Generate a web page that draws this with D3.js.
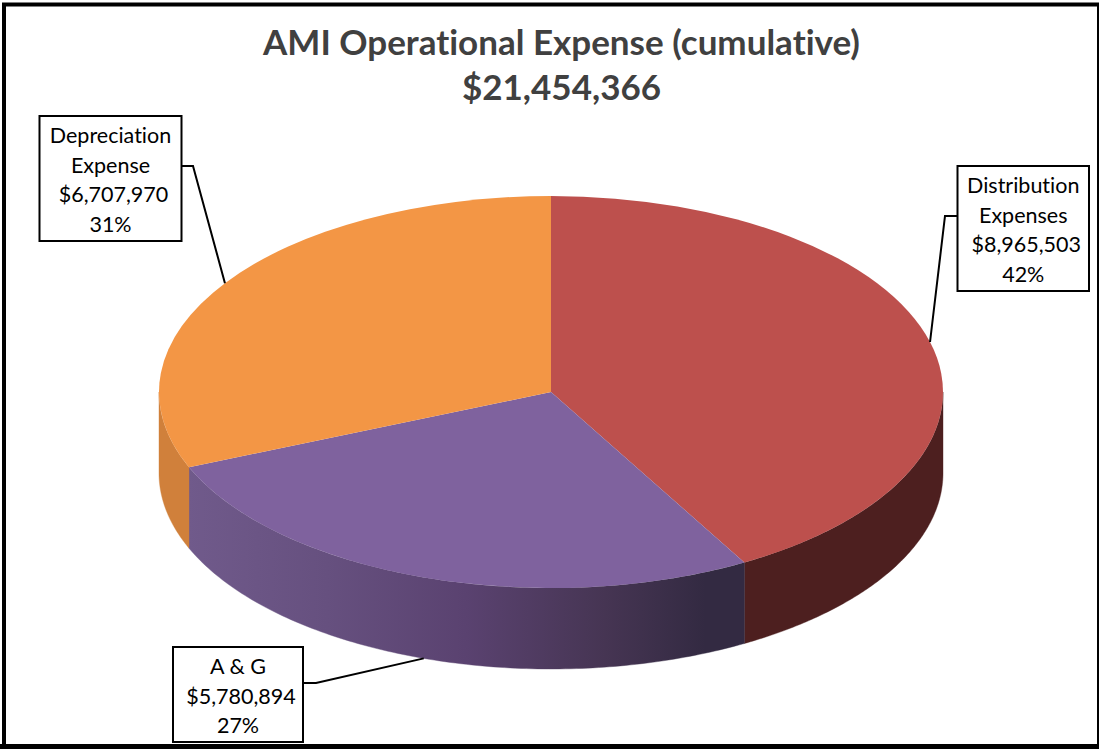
<!DOCTYPE html>
<html><head><meta charset="utf-8">
<script src="https://cdn.jsdelivr.net/npm/d3@7"></script>
<style>html,body{margin:0;padding:0;background:#fff}svg{display:block}text{font-family:Lato,"Noto Sans",sans-serif;font-variant-ligatures:none}</style>
</head><body><svg id="c" width="1099" height="749"></svg>
<script>
const titleLines = ["AMI Operational Expense (cumulative)", "$21,454,366"];
const categories = ["Distribution Expenses", "A & G", "Depreciation Expense"];
const labelNames = [["Distribution", "Expenses"], ["A & G"], ["Depreciation", "Expense"]];
const values = [8965503, 5780894, 6707970];
const topColors = ["#bd504d", "#7f629e", "#f39645"];
const sideColors = ["#4d1f1f", "url(#purpleSide)", "#d0803b"];
const labelBoxes = [
  {x: 957.5, y: 166, w: 131.5, h: 125, elbowX: 945, side: "left"},
  {x: 173, y: 647, w: 130, h: 95, elbowX: 316, side: "right"},
  {x: 39.5, y: 116, w: 142, h: 125, elbowX: 193, side: "right"}
];

const svg = d3.select("#c");
const cx = 551, cy = 392, rx = 392, tilt = 0.5, depth = 81;
const ry = rx * tilt;
const total = d3.sum(values);
const fmt = d3.format("$,");
const pct = d3.format(".0%");

const defs = svg.append("defs");
const grad = defs.append("linearGradient").attr("id", "purpleSide")
  .attr("gradientUnits", "userSpaceOnUse")
  .attr("x1", cx - 363).attr("x2", cx + 193).attr("y1", 0).attr("y2", 0);
[[0, "#705a8b"], [0.25, "#66507f"], [0.5, "#5a4270"], [0.75, "#463553"], [0.93, "#332a42"], [1, "#332a42"]]
  .forEach(([o, c]) => grad.append("stop").attr("offset", o).attr("stop-color", c));

// outer frame
svg.append("rect").attr("x", 4).attr("y", 4.5).attr("width", 1095).attr("height", 741.5)
  .attr("fill", "#fff").attr("stroke", "#000").attr("stroke-width", 4);
svg.append("rect").attr("x", 0).attr("y", 744).attr("width", 1099).attr("height", 5).attr("fill", "#000");

const title = svg.append("g").attr("text-anchor", "middle").attr("fill", "#404040")
  .attr("font-weight", 700).attr("font-size", 35);
title.selectAll("text").data(titleLines).join("text")
  .attr("x", 561.5).attr("y", (d, i) => 55 + i * 45).text(d => d);

const arcs = d3.pie().sort(null).value(d => d)(values);
const px = a => cx + rx * Math.sin(a);
const py = a => cy - ry * Math.cos(a);

// side walls: the front half of the rim only
const line = d3.line();
const g = svg.append("g");
arcs.forEach((a, i) => {
  const s = Math.max(a.startAngle, Math.PI / 2), e = Math.min(a.endAngle, Math.PI * 1.5);
  if (e <= s) return;
  const angles = d3.range(0, 121).map(k => s + (e - s) * k / 120);
  const pts = angles.map(t => [px(t), py(t)]).concat(angles.slice().reverse().map(t => [px(t), py(t) + depth]));
  g.append("path").attr("d", line(pts) + "Z").attr("fill", sideColors[i]).attr("stroke", sideColors[i]).attr("stroke-width", 0.4);
});

// top face
const arc = d3.arc().innerRadius(0).outerRadius(rx);
svg.append("g").attr("transform", `translate(${cx},${cy}) scale(1,${tilt})`)
  .selectAll("path").data(arcs).join("path")
  .attr("d", arc).attr("fill", (d, i) => topColors[i]);

// leader lines and label boxes
arcs.forEach((a, i) => {
  const b = labelBoxes[i];
  const mid = (a.startAngle + a.endAngle) / 2;
  const front = Math.cos(mid) < 0;
  const ex = px(mid), ey = py(mid) + (front ? depth : 0);
  const names = labelNames[i];
  const lines = names.concat([fmt(values[i]), pct(values[i] / total)]);
  const ly = b.y + (lines.length === 4 ? 50 : 36);
  const bx = b.side === "left" ? b.x : b.x + b.w;
  svg.append("path").attr("d", line([[bx, ly], [b.elbowX, ly], [ex, ey]]))
    .attr("fill", "none").attr("stroke", "#000").attr("stroke-width", 2);
  svg.append("rect").attr("x", b.x).attr("y", b.y).attr("width", b.w).attr("height", b.h)
    .attr("fill", "#fff").attr("stroke", "#000").attr("stroke-width", 2);
  const tg = svg.append("g").attr("text-anchor", "middle").attr("fill", "#000").attr("font-size", 21.5);
  lines.forEach((t, k) => {
    tg.append("text")
      .attr("x", b.x + b.w / 2 + (k === names.length ? 3 : 0))
      .attr("y", b.y + 27 + k * 29.5)
      .text(t);
  });
});
</script></body></html>
